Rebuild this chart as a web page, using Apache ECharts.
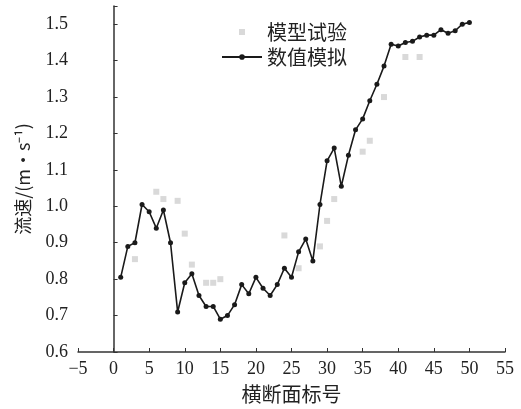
<!DOCTYPE html>
<html>
<head>
<meta charset="utf-8">
<script src="https://cdn.jsdelivr.net/npm/echarts@6/dist/echarts.min.js"></script>
<style>
  html, body { margin: 0; padding: 0; background: #fff; }
  #chart { width: 521px; height: 409px; }
</style>
</head>
<body>
<div id="chart"></div>
<script>
// Cross-section numbers and flow velocity (m/s)
const sections = [1,2,3,4,5,6,7,8,9,10,11,12,13,14,15,16,17,18,19,20,21,22,23,24,25,26,27,28,29,30,31,32,33,34,35,36,37,38,39,40,41,42,43,44,45,46,47,48,49,50];
const simulated = [0.805,0.89,0.90,1.005,0.985,0.94,0.99,0.90,0.71,0.79,0.815,0.755,0.725,0.725,0.69,0.70,0.73,0.785,0.76,0.805,0.775,0.755,0.785,0.83,0.805,0.875,0.91,0.85,1.005,1.125,1.16,1.055,1.14,1.21,1.24,1.29,1.335,1.385,1.445,1.44,1.45,1.453,1.465,1.47,1.47,1.485,1.475,1.482,1.50,1.505];

// Physical model test measurements
const testSections = [3, 6, 7, 9, 10, 11, 13, 14, 15, 24, 26, 29, 30, 31, 35, 36, 38, 41, 43];
const testValues   = [0.855, 1.04, 1.02, 1.015, 0.925, 0.84, 0.79, 0.79, 0.80, 0.92, 0.83, 0.89, 0.96, 1.02, 1.15, 1.18, 1.30, 1.41, 1.41];

const legendNames = ['模型试验', '数值模拟'];
const xName = '横断面标号';
const yName = '流速/(m·s⁻¹)';

const serif = '"Liberation Serif", "Times New Roman", serif';
const cjk = '"Noto Sans CJK SC", sans-serif';

// Legend icon for the scatter series: a small square centred in the 40px slot
// (two near-invisible corner dots fix the icon's bounding box).
const smallSquareIcon = 'path://M0,0h0.05v0.05h-0.05z M17,0.5h6v6h-6z M39.95,6.95h0.05v0.05h-0.05z';

const chart = echarts.init(document.getElementById('chart'), null, { renderer: 'canvas' });
chart.setOption({
  backgroundColor: '#ffffff',
  animation: false,
  grid: { left: 78, right: 16, top: 6, bottom: 57, containLabel: false },
  legend: {
    orient: 'vertical',
    left: 216,
    top: 17,
    itemWidth: 40,
    itemHeight: 7,
    itemGap: 5,
    textStyle: { fontFamily: cjk, fontSize: 20, color: '#222' },
    data: [
      { name: legendNames[0], icon: smallSquareIcon, itemStyle: { color: '#cfcfcf', borderWidth: 0 } },
      { name: legendNames[1] }
    ]
  },
  xAxis: {
    type: 'value',
    min: -5, max: 55, interval: 5,
    name: xName,
    nameLocation: 'middle',
    nameGap: 32,
    nameTextStyle: { fontFamily: cjk, fontSize: 20, color: '#222' },
    axisLine: { show: true, onZero: false, lineStyle: { color: '#333', width: 1.5 } },
    axisTick: { show: true, inside: true, length: 4, lineStyle: { color: '#333' } },
    axisLabel: {
      fontFamily: serif, fontSize: 18, color: '#222', margin: 8,
      formatter: v => String(v).replace('-', '−')
    },
    splitLine: { show: false }
  },
  yAxis: {
    type: 'value',
    min: 0.6, max: 1.55, interval: 0.1,
    name: yName,
    nameLocation: 'middle',
    nameGap: 46,
    nameTextStyle: { fontFamily: cjk, fontSize: 18, color: '#222' },
    axisLine: { show: true, lineStyle: { color: '#333', width: 1.5 } },
    axisTick: { show: true, inside: true, length: 4, lineStyle: { color: '#333' } },
    axisLabel: {
      fontFamily: serif, fontSize: 18, color: '#222', margin: 10,
      formatter: v => (v > 1.501 ? '' : v.toFixed(1))
    },
    splitLine: { show: false }
  },
  series: [
    {
      name: legendNames[0],
      type: 'scatter',
      symbol: 'rect',
      symbolSize: 6,
      itemStyle: { color: '#cfcfcf' },
      data: testSections.map((s, i) => [s, testValues[i]])
    },
    {
      name: legendNames[1],
      type: 'line',
      symbol: 'circle',
      symbolSize: 5,
      showAllSymbol: true,
      lineStyle: { color: '#1a1a1a', width: 1.6 },
      itemStyle: { color: '#1a1a1a' },
      data: sections.map((s, i) => [s, simulated[i]])
    }
  ]
});
</script>
</body>
</html>
